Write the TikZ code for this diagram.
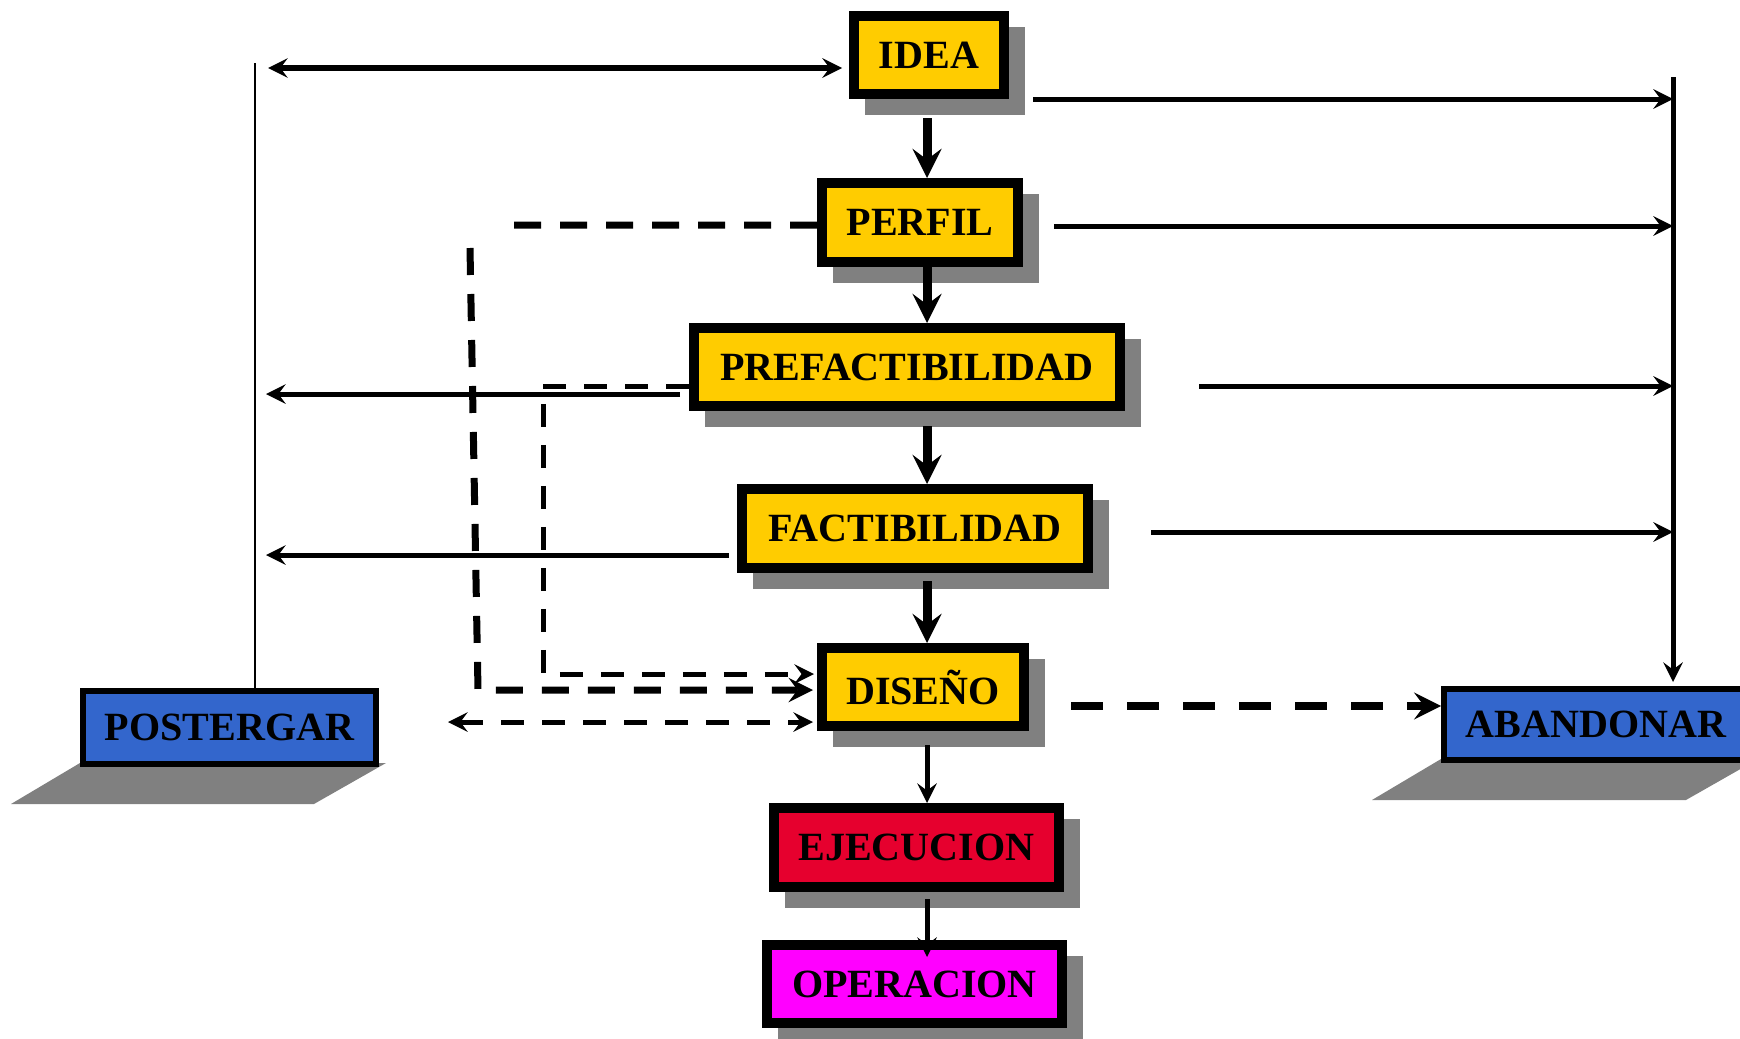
\documentclass[tikz,border=0pt]{standalone}
\usepackage{fontspec}
\setmainfont{Liberation Serif}
\usetikzlibrary{arrows, calc, backgrounds}

\definecolor{stageyellow}{HTML}{FFCC00}
\definecolor{outcomeblue}{HTML}{3366CC}
\definecolor{runred}{HTML}{E6002E}
\definecolor{runmagenta}{HTML}{FF00FF}
\definecolor{shadowgray}{HTML}{808080}

\tikzstyle{stage} = [rectangle, text centered, draw=black, line width=0.1cm,
	inner sep=0pt, fill=stageyellow, font=\bfseries\fontsize{11.4}{13}\selectfont]
\tikzstyle{outcome} = [rectangle, text centered, draw=black, line width=0.06cm,
	inner sep=0pt, fill=outcomeblue, font=\bfseries\fontsize{11.4}{13}\selectfont]
\tikzstyle{arrow} = [->, >=stealth, line width=0.05cm]
\tikzstyle{arrow-thick} = [->, >=stealth, line width=0.09cm]
\tikzstyle{arrow-dash} = [->, >=stealth, line width=0.05cm, dash pattern=on 0.23cm off 0.18cm]
\tikzstyle{arrow-dash-thick} = [->, >=stealth, line width=0.08cm, dash pattern=on 0.32cm off 0.24cm]

\begin{document}
\begin{tikzpicture}
	\useasboundingbox (0,0) rectangle (17.40,-10.39);

	% set up stage nodes
	\node (idea) [stage, minimum width=1.50cm, minimum height=0.78cm] at (9.29,-0.55) {IDEA};
	\node (perfil) [stage, minimum width=1.96cm, minimum height=0.79cm] at (9.20,-2.225) {PERFIL};
	\node (prefact) [stage, minimum width=4.26cm, minimum height=0.78cm] at (9.07,-3.67) {PREFACTIBILIDAD};
	\node (fact) [stage, minimum width=3.46cm, minimum height=0.79cm] at (9.15,-5.285) {FACTIBILIDAD};
	\node (diseno) [stage, minimum width=2.02cm, minimum height=0.78cm] at (9.23,-6.87) {DISEÑO};
	\node (ejec) [stage, fill=runred, minimum width=2.85cm, minimum height=0.79cm] at (9.165,-8.475) {EJECUCION};
	\node (oper) [stage, fill=runmagenta, minimum width=2.95cm, minimum height=0.78cm] at (9.145,-9.84) {OPERACION};

	% set up outcome nodes
	\node (post) [outcome, minimum width=2.93cm, minimum height=0.73cm] at (2.295,-7.275) {POSTERGAR};
	\node (aban) [outcome, minimum width=3.04cm, minimum height=0.71cm] at (15.96,-7.245) {ABANDONAR};

	% set up shadows
	\begin{scope}[on background layer]
		\foreach \n in {idea, perfil, prefact, fact, diseno, ejec, oper}
			\fill [shadowgray] ([shift={(0.16,-0.16)}]\n.south west) rectangle ([shift={(0.16,-0.16)}]\n.north east);
		\foreach \n in {post, aban}
			\fill [shadowgray] ([yshift=0.04cm]\n.south west) -- ([shift={(0.07,0.04)}]\n.south east)
				-- ([shift={(-0.65,-0.37)}]\n.south east) -- ([shift={(-0.69,-0.37)}]\n.south west) -- cycle;
	\end{scope}

	% set up line ends
	\coordinate (spine) at (9.27,0);
	\coordinate (posttop) at (2.55,-0.63);
	\coordinate (idealeft) at (2.68,-0.68);
	\coordinate (abantop) at (16.73,-0.77);
	\coordinate (quitidea) at (16.73,-0.99);
	\coordinate (quitperfil) at (16.73,-2.26);
	\coordinate (quitpre) at (16.73,-3.86);
	\coordinate (quitfact) at (16.73,-5.32);
	\coordinate (backpre) at (2.66,-3.94);
	\coordinate (backfact) at (2.66,-5.55);
	\coordinate (perfilturn) at (4.70,-2.25);
	\coordinate (perfildown) at (4.78,-6.90);
	\coordinate (preturn) at (5.43,-3.86);
	\coordinate (predown) at (5.43,-6.74);
	\coordinate (redo) at (4.48,-7.22);

	% main flow
	\draw [arrow-thick] ([yshift=-0.19cm]idea.south -| spine) -- (spine |- perfil.north);
	\draw [arrow-thick] (perfil.south -| spine) -- (spine |- prefact.north);
	\draw [arrow-thick] ([yshift=-0.15cm]prefact.south -| spine) -- (spine |- fact.north);
	\draw [arrow-thick] ([yshift=-0.08cm]fact.south -| spine) -- (spine |- diseno.north);
	\draw [arrow] ([yshift=-0.14cm]diseno.south -| spine) -- (spine |- ejec.north);
	\draw [arrow] ([yshift=-0.07cm]ejec.south -| spine) -- ([yshift=-0.17cm]spine |- oper.north);

	% postpone side
	\draw [line width=0.025cm] (posttop) -- (posttop |- post.north);
	\draw [arrow, <->] (idealeft) -- ([xshift=-0.07cm]idea.west |- idealeft);
	\draw [arrow] ([xshift=-0.09cm]prefact.west |- backpre) -- (backpre);
	\draw [arrow] ([xshift=-0.08cm]fact.west |- backfact) -- (backfact);

	% abandon side
	\draw [arrow] (abantop) -- ([yshift=0.04cm]abantop |- aban.north);
	\draw [arrow] ([xshift=0.24cm]idea.east |- quitidea) -- (quitidea);
	\draw [arrow] ([xshift=0.31cm]perfil.east |- quitperfil) -- (quitperfil);
	\draw [arrow] ([xshift=0.74cm]prefact.east |- quitpre) -- (quitpre);
	\draw [arrow] ([xshift=0.58cm]fact.east |- quitfact) -- (quitfact);

	% dashed returns to design
	\draw [arrow-dash, line width=0.07cm, dash pattern=on 0.27cm off 0.19cm] (perfil.west |- perfilturn) -- ([xshift=0.33cm]perfilturn)
		([yshift=-0.23cm]perfilturn) -- (perfildown) -- ([xshift=-0.04cm]diseno.west |- perfildown);
	\draw [arrow-dash] (prefact.west |- preturn) -- (preturn) -- (predown) -- ([xshift=-0.03cm]diseno.west |- predown);
	\draw [arrow-dash, <->] (redo) -- ([xshift=-0.04cm]diseno.west |- redo);
	\draw [arrow-dash-thick] ([shift={(0.42,-0.19)}]diseno.east) -- ([yshift=-0.19cm]diseno.east -| aban.west);

\end{tikzpicture}
\end{document}
